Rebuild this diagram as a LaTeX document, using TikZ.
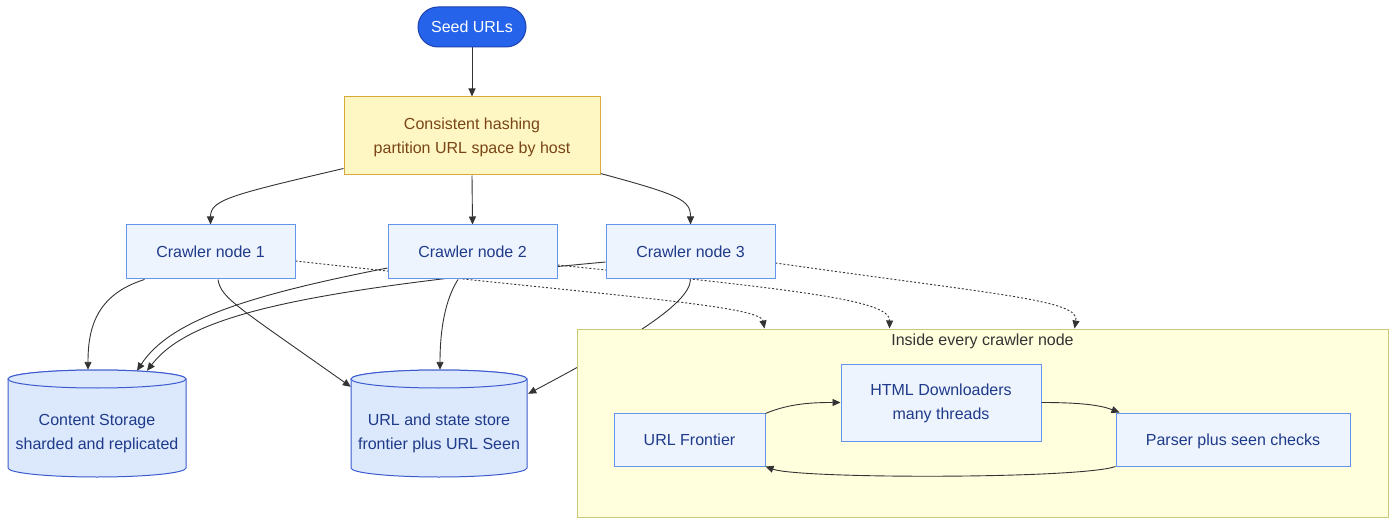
\documentclass[tikz,border=0pt]{standalone}
\usepackage{fontspec}
\setmainfont{Liberation Sans}
\usetikzlibrary{arrows.meta,calc}
\definecolor{seedfill}{HTML}{2563EB}
\definecolor{seedline}{HTML}{1E40AF}
\definecolor{hashfill}{HTML}{FEF7C3}
\definecolor{hashline}{HTML}{D9A93A}
\definecolor{hashtext}{HTML}{7A4516}
\definecolor{nodefill}{HTML}{EEF4FE}
\definecolor{nodeline}{HTML}{6495ED}
\definecolor{nodetext}{HTML}{1E3A8A}
\definecolor{cylfill}{HTML}{DCE8FC}
\definecolor{cylline}{HTML}{3D5BD0}
\definecolor{clfill}{HTML}{FFFFDE}
\definecolor{clline}{HTML}{C8C878}
\definecolor{arrowc}{HTML}{333333}
\pgfdeclarelayer{paper}
\pgfdeclarelayer{edges}
\pgfdeclarelayer{clusterbg}
\pgfsetlayers{paper,edges,clusterbg,main}
\tikzset{
  one/.style={text height=12pt, text depth=0.5pt},
  two/.style={text height=36pt, text depth=1.5pt},
  box/.style={draw=nodeline, fill=nodefill, text=nodetext, rectangle, line width=1pt, align=center, inner sep=0pt},
  hashbox/.style={draw=hashline, fill=hashfill, text=hashtext, rectangle, line width=1pt, align=center, inner sep=0pt},
  seedbox/.style={draw=seedline, fill=seedfill, text=white, rectangle, rounded corners=20pt, line width=1pt, align=center, inner sep=0pt},
  cyl/.style={draw=cylline, fill=cylfill, line width=1pt},
  ghost/.style={rectangle, inner sep=0pt},
  cyltext/.style={text=nodetext, align=center, inner sep=0pt},
  arr/.style={draw=arrowc, line width=0.9pt, -{Triangle[length=8pt,width=7pt]}},
  dotarr/.style={arr, dash pattern=on 2pt off 2pt},
}
\begin{document}
\begin{tikzpicture}[x=1pt,y=-1pt,font=\fontsize{16}{24}\selectfont]
\begin{pgfonlayer}{paper}
\fill[white] (0,0) rectangle (1396,526);
\end{pgfonlayer}
\useasboundingbox (0,0) rectangle (1396,526);

% top nodes
\node[seedbox, one, minimum width=108pt, minimum height=40pt] (seed) at (472,27) {Seed URLs};
\node[hashbox, two, minimum width=256pt, minimum height=78pt] (hash) at (472,136) {Consistent hashing\\partition URL space by host};

\node[box, one, minimum width=169pt, minimum height=54pt] (c1) at (210.5,252) {Crawler node 1};
\node[box, one, minimum width=169pt, minimum height=54pt] (c2) at (472.5,252) {Crawler node 2};
\node[box, one, minimum width=169pt, minimum height=54pt] (c3) at (690.5,252) {Crawler node 3};

% cylinders
\node[ghost, minimum width=178pt, minimum height=107pt] (cs) at (97,423.5) {};
\node[ghost, minimum width=176pt, minimum height=107pt] (us) at (439,423.5) {};
\path[cyl] (8,379) -- (8,468) arc[start angle=180, end angle=0, x radius=89, y radius=9]
  -- (186,379) arc[start angle=0, end angle=-180, x radius=89, y radius=9] -- cycle;
\draw[cyl] (97,379) ellipse[x radius=89, y radius=9];
\path[cyl] (351,379) -- (351,468) arc[start angle=180, end angle=0, x radius=88, y radius=9]
  -- (527,379) arc[start angle=0, end angle=-180, x radius=88, y radius=9] -- cycle;
\draw[cyl] (439,379) ellipse[x radius=88, y radius=9];
\node[cyltext, two] (cst) at (97,432) {Content Storage\\sharded and replicated};
\node[cyltext, two] (ust) at (439,432) {URL and state store\\frontier plus URL Seen};

% cluster
\begin{pgfonlayer}{clusterbg}
\node[draw=clline, fill=clfill, line width=1pt, rectangle, minimum width=811pt, minimum height=188pt, inner sep=0pt] (cl) at (982.5,423) {};
\end{pgfonlayer}
\node[text=arrowc, inner sep=0pt, one] (cltitle) at (982.5,340) {Inside every crawler node};

\node[box, one, minimum width=151pt, minimum height=53pt] (fr) at (689.5,439.5) {URL Frontier};
\node[box, two, minimum width=200pt, minimum height=77pt] (dl) at (941,402.5) {HTML Downloaders\\many threads};
\node[box, one, minimum width=234pt, minimum height=53pt] (pa) at (1233,439.5) {Parser plus seen checks};

% outer edges
\begin{pgfonlayer}{edges}
\draw[arr] (seed.south) -- (hash.north);
\draw[arr] ($(hash.south west)+(0,-7)$) .. controls (230,195) and (210.5,200) .. (c1.north);
\draw[arr] (hash.south) -- (c2.north);
\draw[arr] ($(hash.south east)+(0,-2)$) .. controls (680,195) and (690.5,200) .. (c3.north);

\draw[arr] ($(c1.south west)+(19,0)$) .. controls (95,295) and (88,330) .. ($(cs.north)+(-9,0)$);
\draw[arr] ($(c1.south)+(7.5,0)$) .. controls (221,298) and (235,305) .. ($(us.north west)+(0,17)$);
\draw[arr] ($(c2.west)+(0,16)$) .. controls (250,295) and (170,320) .. ($(cs.north)+(40,1)$);
\draw[arr] ($(c3.west)+(0,10)$) .. controls (300,290) and (190,315) .. ($(cs.north)+(50,1)$);
\draw[arr] ($(c2.south)+(-14.5,0)$) .. controls (445,300) and (440,330) .. ($(us.north)+(1,0)$);
\draw[arr] (c3.south) .. controls (690,305) and (620,345) .. ($(us.north east)+(1,24)$);

\draw[dotarr] ($(c1.east)+(0,9)$) .. controls (600,295) and (760,305) .. ($(cl.north west)+(188,0)$);
\draw[dotarr] ($(c2.east)+(0,13)$) .. controls (800,290) and (890,300) .. ($(cl.north west)+(313,0)$);
\draw[dotarr] ($(c3.east)+(0,11)$) .. controls (1000,295) and (1080,300) .. ($(cl.north west)+(498,0)$);
\end{pgfonlayer}

% inner edges
\draw[arr] ($(fr.north east)+(0,1)$) .. controls (790,403) and (815,402.5) .. (dl.west);
\draw[arr] (dl.east) .. controls (1080,402.5) and (1100,405) .. ($(pa.north west)+(4,0)$);
\draw[arr] (pa.south west) .. controls (1080,479) and (800,479) .. (fr.south east);
\end{tikzpicture}
\end{document}
